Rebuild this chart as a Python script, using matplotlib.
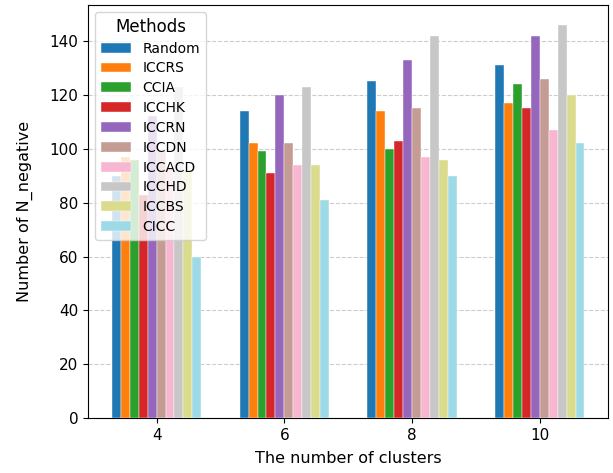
import numpy as np
import matplotlib.pyplot as plt

clusters = ["4", "6", "8", "10"]
methods = ["Random", "ICCRS", "CCIA", "ICCHK", "ICCRN", "ICCDN", "ICCACD", "ICCHD", "ICCBS", "CICC"]
colors = ["#1f77b4", "#ff7f0e", "#2ca02c", "#d62728", "#9467bd",
          "#c49c94", "#f7b6d2", "#c7c7c7", "#dbdb8d", "#9edae5"]

# N_negative per method, one value per cluster count (4, 6, 8, 10)
random_vals = [90, 114, 125, 131]
iccrs_vals = [97, 102, 114, 117]
ccia_vals = [96, 99, 100, 124]
icchk_vals = [83, 91, 103, 115]
iccrn_vals = [112, 120, 133, 142]
iccdn_vals = [99, 102, 115, 126]
iccacd_vals = [93, 94, 97, 107]
icchd_vals = [123, 123, 142, 146]
iccbs_vals = [92, 94, 96, 120]
cicc_vals = [60, 81, 90, 102]

series = [random_vals, iccrs_vals, ccia_vals, icchk_vals, iccrn_vals,
          iccdn_vals, iccacd_vals, icchd_vals, iccbs_vals, cicc_vals]

fig, ax = plt.subplots(figsize=(6.13, 4.73), dpi=100)
x = np.arange(len(clusters))
width = 0.07
n = len(methods)
for i, (name, vals) in enumerate(zip(methods, series)):
    ax.bar(x + (i - (n - 1) / 2) * width, vals, width, label=name, color=colors[i],
           edgecolor="white", linewidth=0.3, zorder=3)

ax.set_xticks(x)
ax.set_xticklabels(clusters)
ax.tick_params(labelsize=11)
ax.set_xlabel("The number of clusters", fontsize=11.5, labelpad=6)
ax.set_ylabel("Number of N_negative", fontsize=11.5, labelpad=12)
ax.yaxis.grid(True, linestyle="--", color="#cccccc", zorder=0)
ax.legend(title="Methods", loc="upper left", fontsize=10, title_fontsize=12,
          handlelength=2.2, labelspacing=0.42)

plt.subplots_adjust(left=0.144, right=0.992, bottom=0.116, top=0.989)
plt.savefig("out.png")
